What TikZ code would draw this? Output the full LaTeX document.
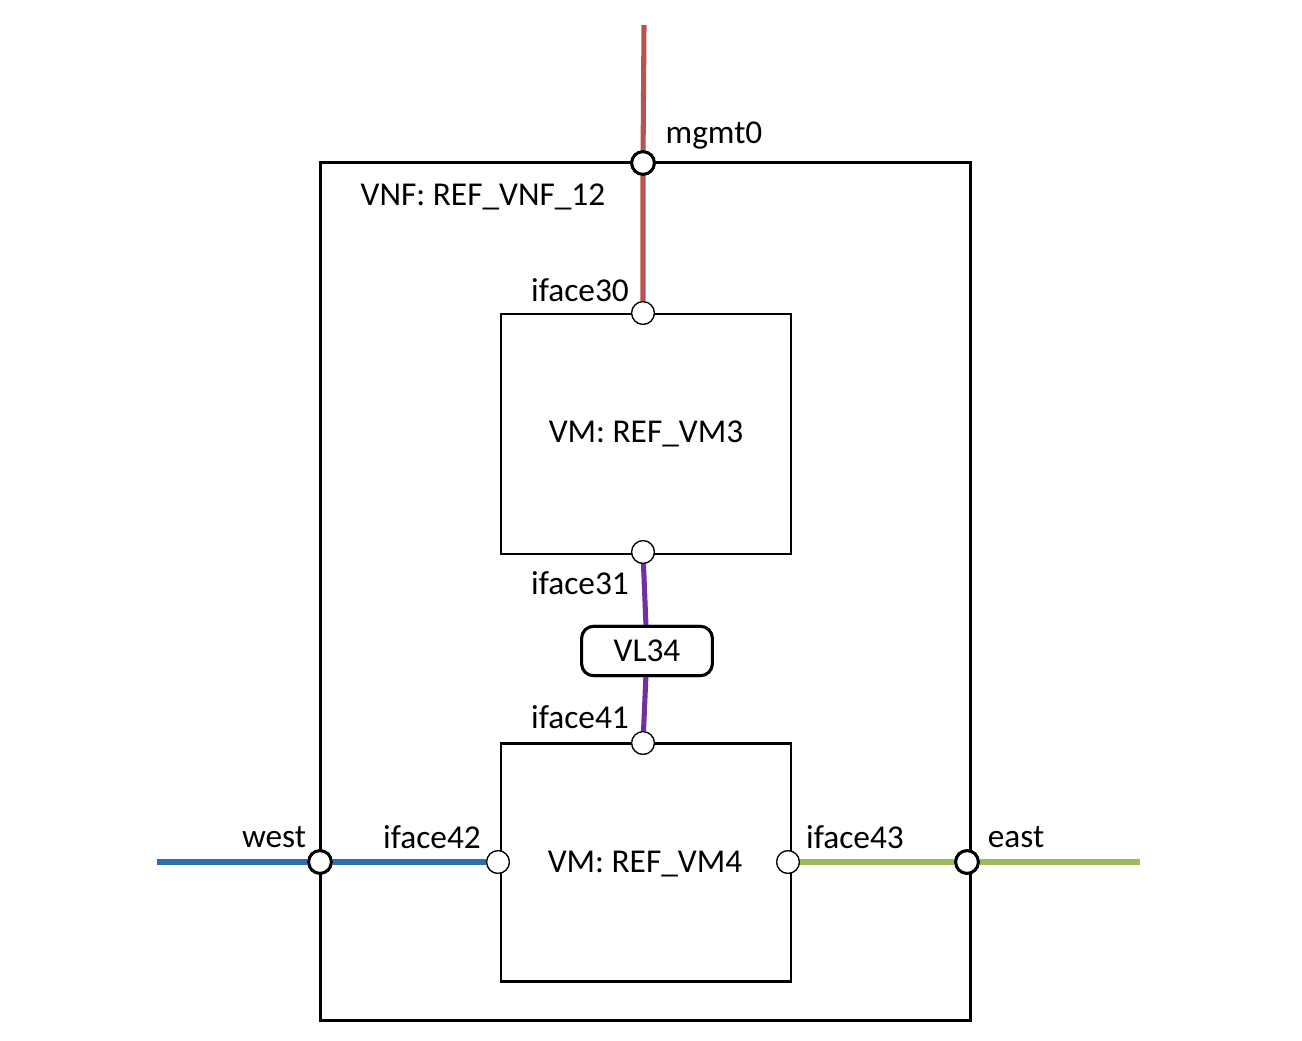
\documentclass[tikz,border=0pt]{standalone}
\usepackage{fontspec}
\setmainfont{Carlito}
\definecolor{cred}{RGB}{184,84,80}
\definecolor{cblue}{RGB}{46,108,180}
\definecolor{cgreen}{RGB}{155,187,89}
\definecolor{cpurp}{RGB}{112,48,160}
\begin{document}
\begin{tikzpicture}[x=0.75pt,y=-0.75pt,
  box/.style={draw,line width=2.2pt},
  lnk/.style={line width=3.8pt},
  bport/.style={circle,draw,fill=white,line width=2.2pt,minimum size=17pt,inner sep=0pt},
  tport/.style={circle,draw,fill=white,line width=0.9pt,minimum size=17pt,inner sep=0pt},
  vlbox/.style={draw,line width=2.2pt,rounded corners=9pt,minimum width=98pt,minimum height=37pt,fill=white},
  lbl/.style={font=\fontsize{25}{30}\selectfont,inner sep=0pt}]
\useasboundingbox (0,0) rectangle (1302,1040);
\coordinate (top) at (644,25);
\coordinate (wl) at (157,862);
\coordinate (el) at (1140,862);
\node[box,minimum width=487pt,minimum height=643pt,inner sep=0pt] (vnf) at (645.5,591.5) {};
\node[box,minimum width=217.5pt,minimum height=180pt,inner sep=0pt,lbl] (vm3) at (646,434) {VM: REF\_VM3};
\node[box,minimum width=217.5pt,minimum height=179pt,inner sep=0pt] (vm4) at (646,862.5) {};
\node[lbl] at (645,864) {VM: REF\_VM4};
\node[vlbox,lbl] (vl) at (647,651) {VL34};
\node[tport] (i30) at (643,313) {};
\node[tport] (i31) at (643,552) {};
\node[tport] (i41) at (643,743) {};
\node[tport] (i42) at (498,862) {};
\node[tport] (i43) at (788,862) {};
\node[bport] (mg) at (643,163) {};
\node[bport] (we) at (320,862) {};
\node[bport] (ea) at (967,862) {};
\draw[lnk,cred] (top) -- (mg) -- (i30);
\draw[lnk,cpurp] (i31) -- (vl) -- (i41);
\draw[lnk,cblue] (wl) -- (we) -- (i42);
\draw[lnk,cgreen] (i43) -- (ea) -- (el);
\node[tport] at (i30) {};
\node[tport] at (i31) {};
\node[tport] at (i41) {};
\node[tport] at (i42) {};
\node[tport] at (i43) {};
\node[bport] at (mg) {};
\node[bport] at (we) {};
\node[bport] at (ea) {};
\node[vlbox,lbl] at (vl) {VL34};
\node[lbl] at (714,136) {mgmt0};
\node[lbl] at (483,197) {VNF: REF\_VNF\_12};
\node[lbl] at (580,290) {iface30};
\node[lbl] at (580,583) {iface31};
\node[lbl] at (580,717) {iface41};
\node[lbl] at (274,837) {west};
\node[lbl] at (432,837) {iface42};
\node[lbl] at (855,837) {iface43};
\node[lbl] at (1016,837) {east};
\end{tikzpicture}
\end{document}
